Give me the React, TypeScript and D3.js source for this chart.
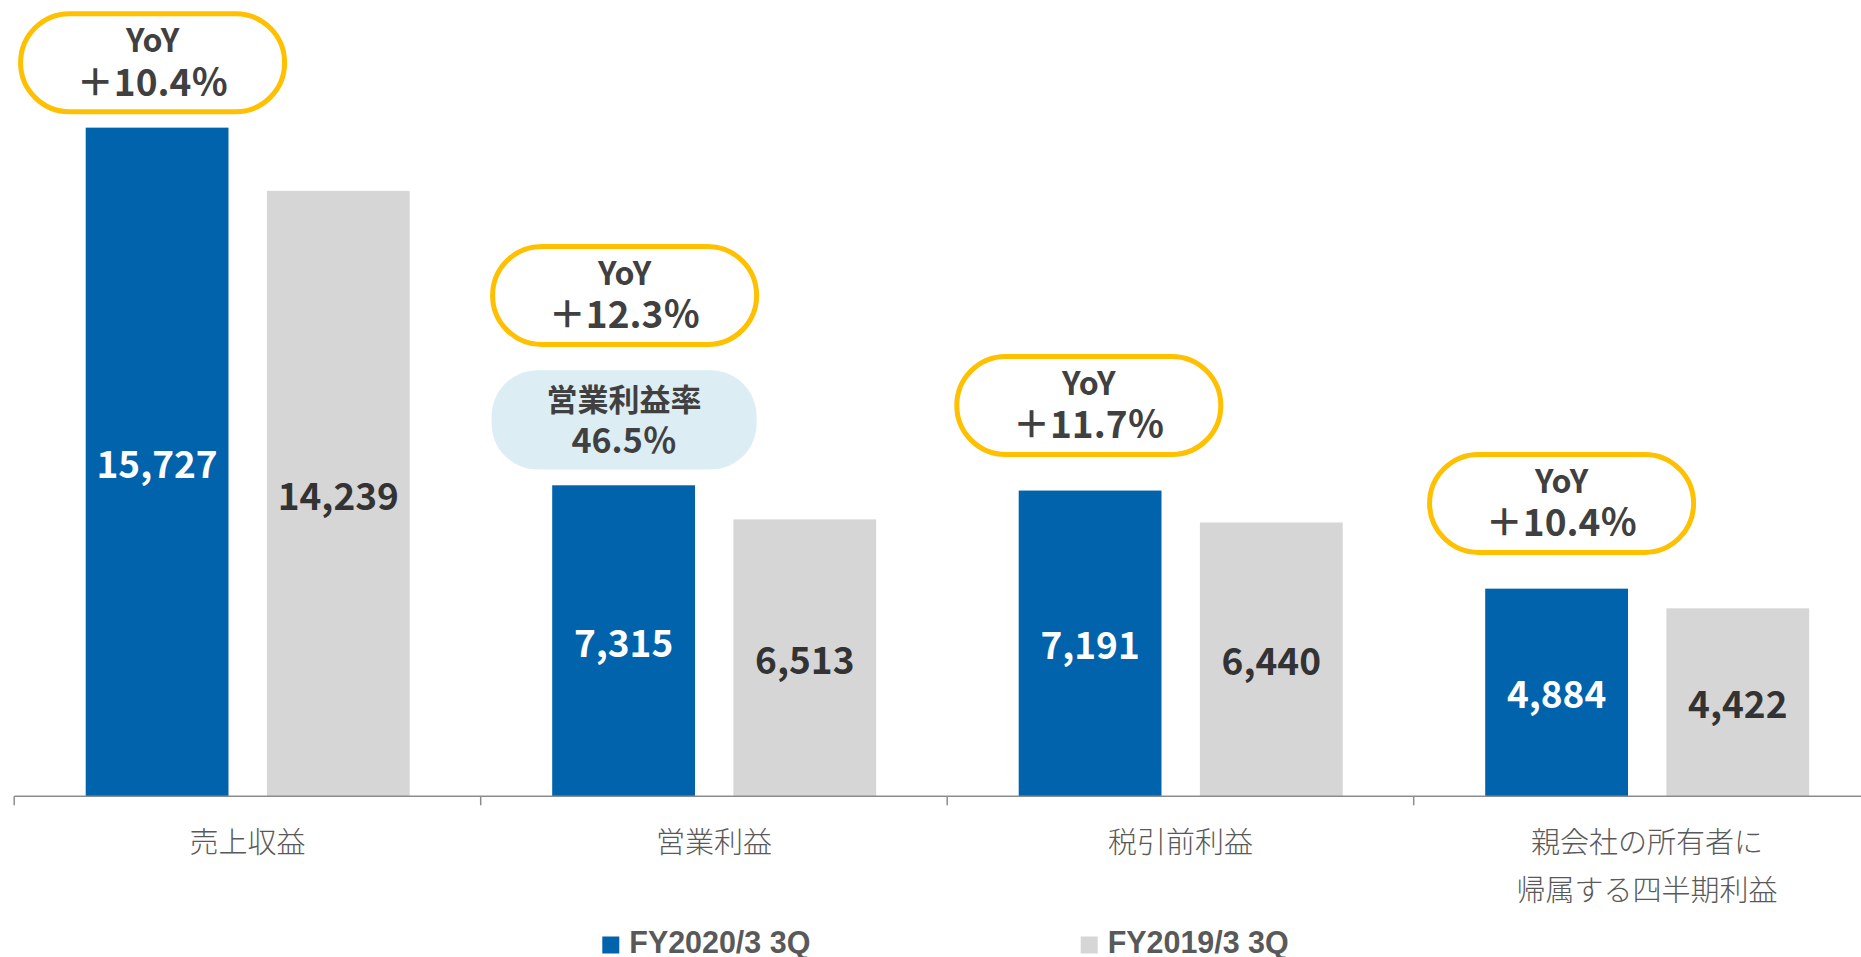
import React from "react";
import * as d3 from "d3";

// ---- data ----
const categories: string[][] = [
  ["売上収益"],
  ["営業利益"],
  ["税引前利益"],
  ["親会社の所有者に", "帰属する四半期利益"],
];
const seriesNames = ["FY2020/3 3Q", "FY2019/3 3Q"];
const fy2020 = [15727, 7315, 7191, 4884];
const fy2019 = [14239, 6513, 6440, 4422];
const yoyLabels = ["＋10.4％", "＋12.3％", "＋11.7％", "＋10.4％"];
const marginTitle = "営業利益率";
const marginValue = "46.5％";
const marginIndex = 1;

// ---- layout ----
const W = 1861;
const H = 957;
const COLORS = ["#0063AC", "#D6D6D6"];
const TEXT_DARK = "#404040";
const LABEL_GRAY = "#595959";
const AXIS_GRAY = "#8C8C8C";
const PILL_YELLOW = "#FFC000";
const PILL_BLUE = "#DCEDF3";
const FONT = "'Noto Sans CJK JP', 'Noto Sans', sans-serif";

const bandStart = 14.2;
const bandStep = 466.5;
const yoyGap = [13.4, 0, 33.6, 33.7];
const yoyDx = [-4.5, 1, -1.3, 5];
const pillW = 269;
const pillH = 103;
const pillStroke = 5;
const marginPillH = 99.3;
const marginPillW = 265;
const marginGap = 15.7;
const marginToYoy = 23.3;
const legendX = [602.3, 1080.7];

const fmt = d3.format(",");

export default function App() {
  const x0 = d3
    .scaleBand<number>()
    .domain(d3.range(categories.length))
    .range([bandStart, bandStart + bandStep * categories.length])
    .padding(0);
  const x1 = d3
    .scaleBand<number>()
    .domain([0, 1])
    .range([71.5, 395.5])
    .paddingInner(0.212)
    .paddingOuter(0);
  const y = d3.scaleLinear().domain([0, 18000]).range([796.3, 31.0]);
  const series = [fy2020, fy2019];
  const baseY = y(0);

  const pills: React.ReactNode[] = [];
  categories.forEach((_, i) => {
    const bx = (x0(i) as number) + (x1(0) as number);
    const cx = bx + x1.bandwidth() / 2 + yoyDx[i];
    const barTop = y(fy2020[i]);
    let bottom = barTop - yoyGap[i];
    if (i === marginIndex) {
      const mBottom = barTop - marginGap;
      const mTop = mBottom - marginPillH;
      const mcx = bx + x1.bandwidth() / 2 + 0.5;
      pills.push(
        <g key={"m" + i}>
          <rect
            x={mcx - marginPillW / 2}
            y={mTop}
            width={marginPillW}
            height={marginPillH}
            rx={46}
            ry={46}
            fill={PILL_BLUE}
          />
          <text x={mcx} y={mTop + 27} textAnchor="middle" dominantBaseline="central" fontSize={31} fontWeight={700} fill={TEXT_DARK} fontFamily={FONT}>
            {marginTitle}
          </text>
          <text x={mcx} y={mTop + 68} textAnchor="middle" dominantBaseline="central" fontSize={34} fontWeight={700} fill={TEXT_DARK} fontFamily={FONT}>
            {marginValue}
          </text>
        </g>
      );
      bottom = mTop - marginToYoy;
    }
    const top = bottom - pillH;
    pills.push(
      <g key={"y" + i}>
        <rect
          x={cx - pillW / 2 + pillStroke / 2}
          y={top + pillStroke / 2}
          width={pillW - pillStroke}
          height={pillH - pillStroke}
          rx={(pillH - pillStroke) / 2}
          ry={(pillH - pillStroke) / 2}
          fill="#fff"
          stroke={PILL_YELLOW}
          strokeWidth={pillStroke}
        />
        <text x={cx} y={top + 27} textAnchor="middle" dominantBaseline="central" fontSize={32} fontWeight={700} fill={TEXT_DARK} fontFamily={FONT}>
          YoY
        </text>
        <text x={cx} y={top + 68.5} textAnchor="middle" dominantBaseline="central" fontSize={37} fontWeight={700} fill={TEXT_DARK} fontFamily={FONT}>
          {yoyLabels[i]}
        </text>
      </g>
    );
  });

  return (
    <svg
      width={W}
      height={H}
      style={{ position: "absolute", left: 0, top: 0, background: "#fff" }}
      fontFamily={FONT}
    >
      {/* bars */}
      {categories.map((_, i) => (
        <g key={"bars" + i} transform={`translate(${x0(i)},0)`}>
          {series.map((s, k) => {
            const v = s[i];
            const bx = x1(k) as number;
            const top = y(v);
            return (
              <g key={k}>
                <rect x={bx} y={top} width={x1.bandwidth()} height={baseY - top} fill={COLORS[k]} />
                <text
                  x={bx + x1.bandwidth() / 2}
                  y={(top + baseY) / 2}
                  textAnchor="middle"
                  dominantBaseline="central"
                  fontSize={37}
                  fontWeight={700}
                  fill={k === 0 ? "#fff" : "#333333"}
                >
                  {fmt(v)}
                </text>
              </g>
            );
          })}
        </g>
      ))}

      {/* axis */}
      <line x1={bandStart} x2={W} y1={baseY} y2={baseY} stroke={AXIS_GRAY} strokeWidth={1.5} />
      {categories.map((_, i) => (
        <line
          key={"t" + i}
          x1={(x0(i) as number)}
          x2={(x0(i) as number)}
          y1={baseY}
          y2={baseY + 9}
          stroke={AXIS_GRAY}
          strokeWidth={1.5}
        />
      ))}
      {categories.map((lines, i) =>
        lines.map((ln, j) => (
          <text
            key={"c" + i + "-" + j}
            x={(x0(i) as number) + x0.bandwidth() / 2}
            y={840 + j * 48}
            textAnchor="middle"
            dominantBaseline="central"
            fontSize={29}
            fontWeight={300}
            fill={LABEL_GRAY}
          >
            {ln}
          </text>
        ))
      )}

      {pills}

      {/* legend */}
      {seriesNames.map((name, k) => (
        <g key={"lg" + k}>
          <rect x={legendX[k]} y={936.5} width={17} height={17} fill={COLORS[k]} />
          <text
            x={legendX[k] + 27}
            y={953}
            fontSize={32}
            fontWeight={700}
            fill={LABEL_GRAY}
            fontFamily="'Liberation Sans Narrow', 'Liberation Sans', Arial, sans-serif"
            textLength={181}
            lengthAdjust="spacingAndGlyphs"
          >
            {name}
          </text>
        </g>
      ))}
    </svg>
  );
}
